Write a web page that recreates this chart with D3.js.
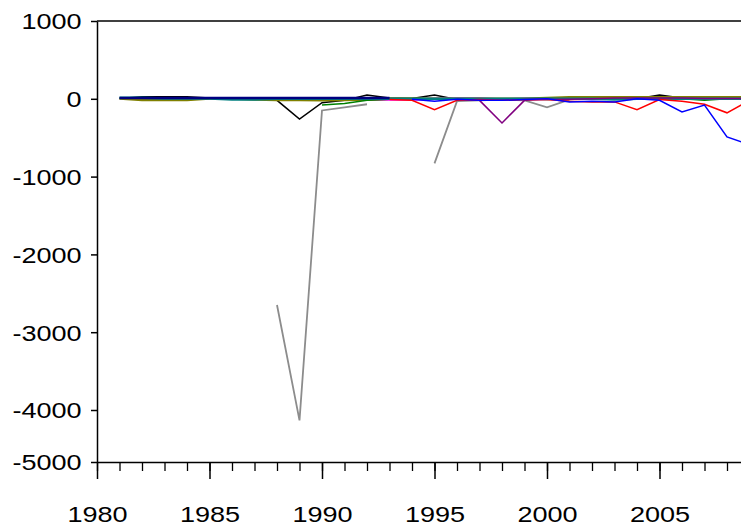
<!DOCTYPE html>
<html>
<head>
<meta charset="utf-8">
<script src="https://cdnjs.cloudflare.com/ajax/libs/d3/7.8.5/d3.min.js"></script>
<style>
  body { margin: 0; background: #fff; }
  text { font-family: "Liberation Sans", Arial, sans-serif; }
</style>
</head>
<body>
<div id="chart"></div>
<script>
// years 1981..2010
var years = d3.range(1981, 2011);

var sNavy    = [10,10,10,10,10,10,10,10,10,10,10,10,10,null,null,null,null,null,null,null,null,null,null,null,null,null,null,null,null,null];
var sTeal    = [15,15,5,5,5,-10,-10,0,0,0,0,0,0,0,0,0,0,0,0,0,0,0,-10,0,0,0,0,0,0,0];
var sOlive   = [5,-15,-15,-15,5,5,-10,-15,-15,-20,-15,-10,0,5,0,0,0,0,0,10,20,20,20,20,20,20,20,20,20,20];
var sBlack   = [5,25,25,25,10,5,0,-20,-260,-50,-20,50,10,5,50,-10,0,-10,-5,0,0,0,0,0,50,10,0,0,0,0];
var sGray    = [null,null,null,null,null,null,null,-2650,-4200,-150,-110,-70,null,null,-830,-30,-20,-10,-20,-110,-10,20,25,25,25,25,25,25,25,25];
var sGreen   = [null,null,null,null,null,null,null,null,null,-80,-60,-20,-5,0,0,0,0,0,0,-10,0,0,0,0,0,0,-20,0,0,0];
var sMagenta = [null,null,null,null,null,null,null,null,null,null,-10,-5,-10,-10,0,5,5,-10,0,0,10,10,5,5,15,15,15,5,5,5];
var sRed     = [null,null,null,null,null,null,null,null,null,null,null,null,-10,-20,-140,-20,-10,-20,-10,-10,-30,-40,-40,-140,-10,-30,-70,-180,-20,-10];
var sPurple  = [null,null,null,null,null,null,null,null,null,null,null,null,null,null,null,-10,-20,-310,-20,-10,-5,0,10,10,10,10,5,5,5,5];
var sBlue    = [null,null,null,null,null,null,null,null,null,null,null,null,null,-5,-30,-5,-20,-20,-10,0,-40,-30,-40,0,-20,-170,-80,-490,-590,-600];

// drawn in this order, last on top
var series = [
  {vals: sBlack, color: "#000000", w: 1.5},
  {vals: sMagenta, color: "#ff00ff", w: 2.5},
  {vals: sGray, color: "#8c8c8c", w: 1.8},
  {vals: sOlive, color: "#808000", w: 2.5},
  {vals: sGreen, color: "#008000", w: 1.5},
  {vals: sTeal, color: "#008080", w: 2.5},
  {vals: sPurple, color: "#800080", w: 1.5},
  {vals: sRed, color: "#ff0000", w: 1.5},
  {vals: sBlue, color: "#0000ff", w: 1.5},
  {vals: sNavy, color: "#000080", w: 2.5}
];

var yTicks = [1000, 0, -1000, -2000, -3000, -4000, -5000];
var xTicks = [1980, 1985, 1990, 1995, 2000, 2005];

var W = 741, H = 529;
var plotLeft = 97, plotTop = 21, plotBottom = 462;
var stretch = 1.23;

var svg = d3.select("#chart").append("svg")
    .attr("width", W)
    .attr("height", H);

var x = d3.scaleLinear().domain([1980, 2010]).range([plotLeft, plotLeft + 30 * 22.5]);
var y = d3.scaleLinear().domain([-5000, -4000, 1000]).range([plotBottom, 410, plotTop]);

var fmt = function(d) { return String(d); };

svg.append("defs").append("clipPath").attr("id", "clip")
  .append("rect").attr("x", plotLeft).attr("y", plotTop).attr("width", W - plotLeft).attr("height", plotBottom - plotTop);

var line = d3.line()
    .defined(function(d) { return d != null; })
    .x(function(d, i) { return x(years[i]); })
    .y(function(d) { return y(d); });

var g = svg.append("g").attr("clip-path", "url(#clip)");
series.forEach(function(s) {
  g.append("path")
    .attr("d", line(s.vals))
    .attr("fill", "none")
    .attr("stroke", s.color)
    .attr("stroke-width", s.w);
});

// frame top
svg.append("line").attr("x1", plotLeft).attr("x2", W).attr("y1", plotTop).attr("y2", plotTop)
  .attr("stroke", "#000").attr("stroke-width", 1.5);

// y axis
var yAxis = svg.append("g").attr("transform", "translate(" + plotLeft + ",0)")
  .call(d3.axisLeft(y).tickValues(yTicks).tickSize(6).tickSizeOuter(0).tickFormat(fmt));
yAxis.select(".domain").attr("stroke-width", 1.5);
yAxis.selectAll("line").attr("stroke-width", 1.5);
yAxis.selectAll("text").attr("font-size", 22).attr("fill", "#000")
  .attr("x", -12.5).attr("dy", "0.36em").attr("transform", "scale(" + stretch + ",1)");

// x axis minor ticks
var xMinor = svg.append("g").attr("transform", "translate(0," + plotBottom + ")")
  .call(d3.axisBottom(x).tickValues(d3.range(1980, 2011)).tickSize(9).tickSizeOuter(0).tickFormat(""));
xMinor.select(".domain").attr("stroke-width", 1.5);
xMinor.selectAll("line").attr("stroke-width", 1.3);

var xAxis = svg.append("g").attr("transform", "translate(0," + plotBottom + ")")
  .call(d3.axisBottom(x).tickValues(xTicks).tickSize(17).tickSizeOuter(0).tickFormat(fmt));
xAxis.select(".domain").remove();
xAxis.selectAll("line").attr("stroke-width", 1.5);
xAxis.selectAll("text").attr("font-size", 22).attr("fill", "#000").attr("y", 44)
  .attr("transform", "scale(" + stretch + ",1)");
</script>
</body>
</html>
